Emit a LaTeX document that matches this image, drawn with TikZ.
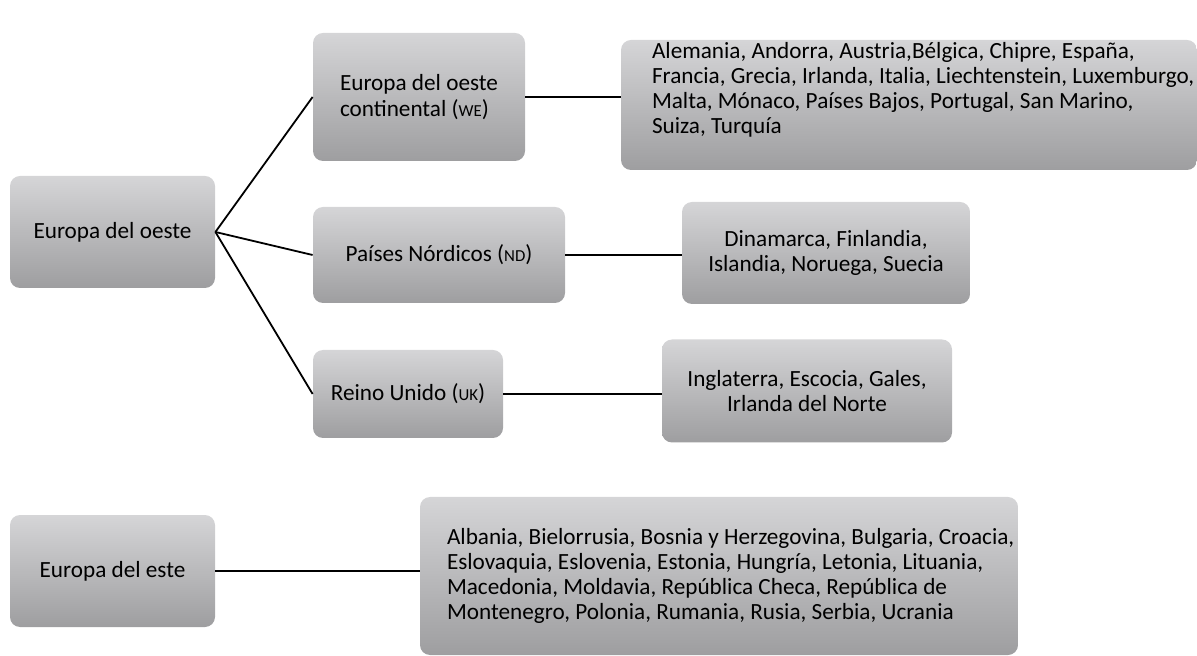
\documentclass[tikz,border=0pt]{standalone}
\usepackage{fontspec}
\setmainfont{Carlito}
\usepackage{tikz}

\newcommand{\abbr}[1]{{\fontsize{8.4}{8.4}\selectfont #1}}

\begin{document}
\begin{tikzpicture}[x=0.5pt, y=-0.5pt,
    box/.style={rounded corners=5pt, inner sep=0pt, font=\fontsize{11.6}{12.6}\selectfont,
      top color={rgb,255:red,213;green,213;blue,215},
      bottom color={rgb,255:red,158;green,158;blue,160}},
    txt/.style={inner sep=0pt, anchor=west, align=left, font=\fontsize{11.6}{12.6}\selectfont},
    link/.style={line width=0.9pt, black}]
      \useasboundingbox (0,0) rectangle (1197,656);
      % Zones
      \node[box, minimum width=102.5pt, minimum height=56pt] (oeste) at (112.5,232) {Europa del oeste};
      \node[box, minimum width=106pt, minimum height=64pt, align=left] (we) at (419,97)
      {Europa del oeste\\continental (\abbr{WE})};
      \node[box, minimum width=126pt, minimum height=48pt] (nd) at (439,255) {Países Nórdicos (\abbr{ND})};
      \node[box, minimum width=95pt, minimum height=44pt] (uk) at (408,394) {Reino Unido (\abbr{UK})};
      \node[box, minimum width=102.5pt, minimum height=56pt] (este) at (112.5,571) {Europa del este\hspace{8pt}};
      % Labels
      \node[box, minimum width=288pt, minimum height=65pt] (wec) at (909,105) {};
      \node[txt] (wectext) at ([xshift=15.5pt, yshift=7.5pt]wec.west)
      {Alemania, Andorra, Austria,Bélgica, Chipre, España,\\
       Francia, Grecia, Irlanda, Italia, Liechtenstein, Luxemburgo,\\
       Malta, Mónaco, Países Bajos, Portugal, San Marino,\\
       Suiza, Turquía};
      \node[box, minimum width=144pt, minimum height=51pt, align=center] (ndc) at (826,253)
      {Dinamarca, Finlandia,\\Islandia, Noruega, Suecia};
      \node[box, minimum width=145pt, minimum height=51.5pt, align=center] (ukc) at (807,391)
      {Inglaterra, Escocia, Gales,\\Irlanda del Norte};
      \node[box, minimum width=299pt, minimum height=79pt] (estec) at (719,576) {};
      \node[txt] (estectext) at ([xshift=13.5pt, yshift=0pt]estec.west)
      {Albania, Bielorrusia, Bosnia y Herzegovina, Bulgaria, Croacia,\\
       Eslovaquia, Eslovenia, Estonia, Hungría, Letonia, Lituania,\\
       Macedonia, Moldavia, República Checa, República de\\
       Montenegro, Polonia, Rumania, Rusia, Serbia, Ucrania};
      % Links
      \draw[link] (oeste.east) -- (we.west);
      \draw[link] (oeste.east) -- (nd.west);
      \draw[link] (oeste.east) -- (uk.west);
      \draw[link] (we.east) -- (we.east -| wec.west);
      \draw[link] (nd.east) -- (nd.east -| ndc.west);
      \draw[link] (uk.east) -- (uk.east -| ukc.west);
      \draw[link] (este.east) -- (este.east -| estec.west);
    \end{tikzpicture}
\end{document}
